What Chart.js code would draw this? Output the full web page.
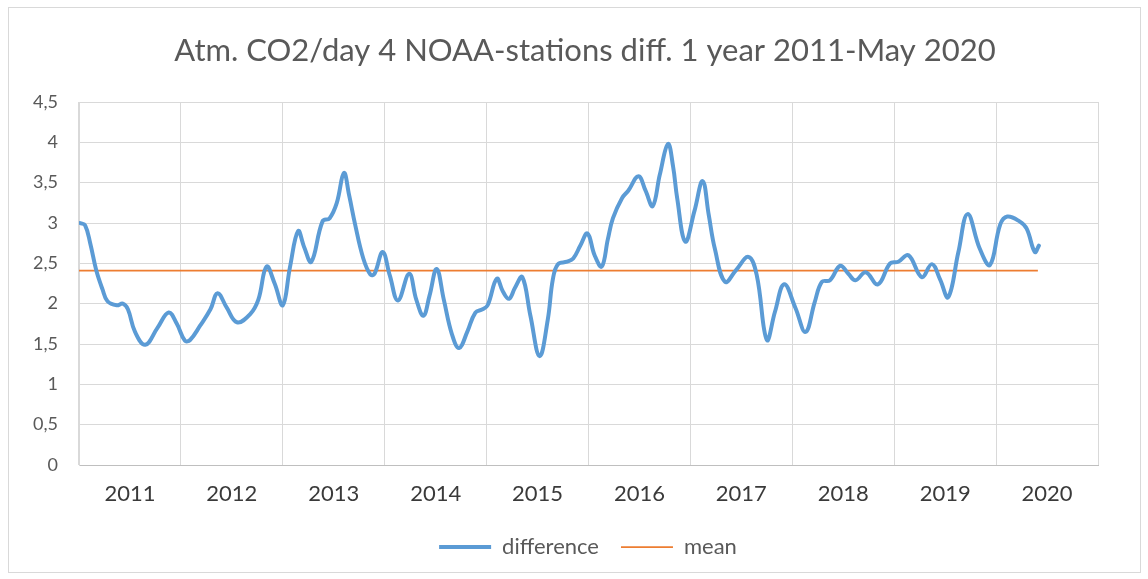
<!DOCTYPE html>
<html>
<head>
<meta charset="utf-8">
<script src="https://cdn.jsdelivr.net/npm/chart.js@4.4.1/dist/chart.umd.min.js"></script>
<style>
  html, body { margin: 0; padding: 0; background: #fff; }
  canvas { display: block; }
</style>
</head>
<body>
<canvas id="c" width="1148" height="579"></canvas>
<script>
// ===== Atm. CO2/day, 4 NOAA stations, 1-year difference =====
const title = 'Atm. CO2/day 4 NOAA-stations diff. 1 year 2011-May 2020';
const years = ['2011', '2012', '2013', '2014', '2015', '2016', '2017', '2018', '2019', '2020'];
const yTicks = [0, 0.5, 1, 1.5, 2, 2.5, 3, 3.5, 4, 4.5];

// decimal year of each reading
const dates = [
    2011.01, 2011.06, 2011.11, 2011.17, 2011.23, 2011.28, 2011.37, 2011.43, 2011.48, 2011.55,
    2011.65, 2011.77, 2011.88, 2011.96, 2012.04, 2012.09, 2012.19, 2012.29, 2012.36, 2012.45,
    2012.55, 2012.68, 2012.76, 2012.84, 2012.92, 2013.00, 2013.07, 2013.15, 2013.21, 2013.28,
    2013.39, 2013.46, 2013.53, 2013.60, 2013.65, 2013.71, 2013.79, 2013.86, 2013.90, 2013.98,
    2014.05, 2014.13, 2014.24, 2014.31, 2014.38, 2014.44, 2014.51, 2014.58, 2014.66, 2014.73,
    2014.81, 2014.89, 2014.96, 2015.01, 2015.10, 2015.16, 2015.22, 2015.28, 2015.35, 2015.43,
    2015.52, 2015.60, 2015.65, 2015.70, 2015.79, 2015.85, 2015.92, 2015.99, 2016.06, 2016.13,
    2016.19, 2016.24, 2016.33, 2016.39, 2016.49, 2016.56, 2016.63, 2016.70, 2016.78, 2016.83,
    2016.87, 2016.95, 2017.04, 2017.12, 2017.18, 2017.24, 2017.34, 2017.45, 2017.57, 2017.65,
    2017.75, 2017.83, 2017.92, 2018.03, 2018.13, 2018.22, 2018.29, 2018.37, 2018.47, 2018.55,
    2018.62, 2018.72, 2018.84, 2018.96, 2019.04, 2019.14, 2019.27, 2019.37, 2019.45, 2019.53,
    2019.63, 2019.72, 2019.84, 2019.94, 2020.04, 2020.11, 2020.23, 2020.30, 2020.38, 2020.42
];
const difference = [
    3.00, 2.97, 2.75, 2.41, 2.18, 2.03, 1.98, 2.00, 1.93, 1.65,
    1.49, 1.70, 1.89, 1.75, 1.54, 1.55, 1.73, 1.93, 2.13, 1.95,
    1.77, 1.87, 2.05, 2.46, 2.25, 1.98, 2.45, 2.90, 2.70, 2.52,
    3.02, 3.06, 3.25, 3.62, 3.35, 2.98, 2.56, 2.36, 2.37, 2.64,
    2.35, 2.04, 2.37, 2.05, 1.85, 2.10, 2.43, 2.05, 1.62, 1.45,
    1.65, 1.89, 1.93, 1.98, 2.31, 2.15, 2.06, 2.20, 2.33, 1.85,
    1.35, 1.80, 2.30, 2.49, 2.52, 2.56, 2.72, 2.87, 2.60, 2.46,
    2.80, 3.06, 3.31, 3.40, 3.58, 3.40, 3.21, 3.60, 3.98, 3.70,
    3.31, 2.77, 3.15, 3.52, 3.10, 2.68, 2.27, 2.42, 2.58, 2.36,
    1.55, 1.90, 2.24, 1.95, 1.65, 2.02, 2.27, 2.29, 2.47, 2.37,
    2.29, 2.39, 2.24, 2.50, 2.52, 2.60, 2.33, 2.49, 2.30, 2.08,
    2.64, 3.11, 2.68, 2.48, 2.98, 3.08, 3.02, 2.93, 2.64, 2.72
];
const meanDates = [2011.0, 2020.41];
const meanValues = [2.41, 2.41];

const grey = '#595959';
const font = 'Lato, "Open Sans", sans-serif';

// outer frame and the title, placed like the spreadsheet original
const frame = {
    id: 'frame',
    beforeDraw(chart) {
        const ctx = chart.ctx;
        ctx.save();
        ctx.fillStyle = '#fff';
        ctx.fillRect(0, 0, chart.width, chart.height);
        ctx.strokeStyle = '#d9d9d9';
        ctx.lineWidth = 1;
        ctx.strokeRect(8.5, 7.5, 1132, 565);
        ctx.fillStyle = grey;
        ctx.font = '31px ' + font;
        ctx.textAlign = 'center';
        ctx.textBaseline = 'alphabetic';
        ctx.fillText(title, 585, 61);
        ctx.restore();
    }
};

new Chart(document.getElementById('c'), {
    type: 'line',
    data: {
        datasets: [
            { label: 'difference', data: dates.map((d, i) => ({ x: d, y: difference[i] })),
              borderColor: '#5b9bd5', backgroundColor: '#5b9bd5', borderWidth: 4,
              pointRadius: 0, tension: 0.4, borderCapStyle: 'round', borderJoinStyle: 'round' },
            { label: 'mean', data: meanDates.map((d, i) => ({ x: d, y: meanValues[i] })),
              borderColor: '#ed7d31', backgroundColor: '#ed7d31', borderWidth: 1.75,
              pointRadius: 0, tension: 0 }
        ]
    },
    options: {
        responsive: false, animation: false, devicePixelRatio: 1,
        layout: { padding: { left: 28, right: 0, top: 102, bottom: 11 } },
        scales: {
            x: {
                type: 'linear', min: 2011, max: 2021,
                afterBuildTicks: s => { s.ticks = years.map(y => ({ value: +y + 0.5 })); },
                afterFit: s => { s.height = 49; },
                grid: { offset: true, color: '#d9d9d9', drawTicks: false },
                border: { color: '#bfbfbf' },
                ticks: { autoSkip: false, maxRotation: 0, padding: 16, color: '#3a3a3a',
                         font: { family: font, size: 22 }, callback: (v, i) => years[i] }
            },
            y: {
                min: 0, max: 4.5,
                afterBuildTicks: s => { s.ticks = yTicks.map(v => ({ value: v })); },
                afterFit: s => { s.width = 51; },
                grid: { color: '#d9d9d9', drawTicks: false },
                border: { color: '#d9d9d9' },
                ticks: { padding: 21, color: grey, font: { family: font, size: 18 },
                         callback: v => String(v).replace('.', ',') }
            },
            // empty right-hand margin, keeps the legend centred like the original
            spacer: {
                position: 'right', afterFit: s => { s.width = 50; },
                grid: { display: false }, border: { display: false }, ticks: { display: false }
            }
        },
        plugins: {
            title: { display: false },
            legend: { position: 'bottom',
                      labels: { usePointStyle: true, pointStyle: 'line', pointStyleWidth: 52, boxHeight: 12,
                                color: grey, padding: 22, font: { family: font, size: 22 } } },
            tooltip: { enabled: false }
        }
    },
    plugins: [frame]
});
</script>
</body>
</html>
